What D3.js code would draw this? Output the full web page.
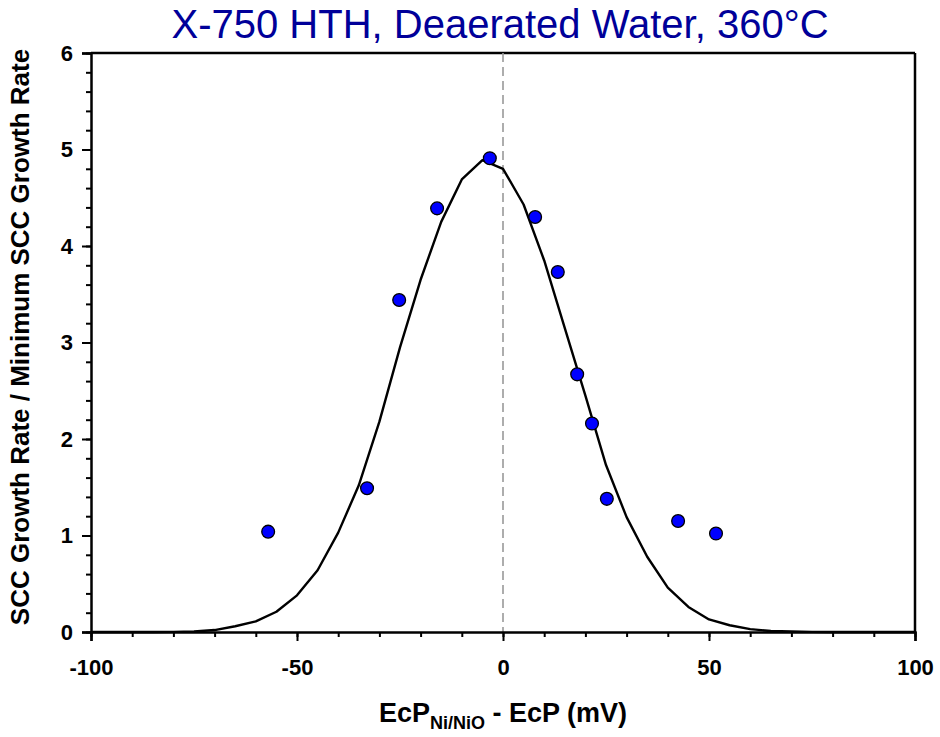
<!DOCTYPE html>
<html>
<head>
<meta charset="utf-8">
<script src="https://cdn.jsdelivr.net/npm/d3@7"></script>
<style>
    body { margin: 0; background: #fff; }
    text { font-family: "Liberation Sans", Arial, sans-serif; }
</style>
</head>
<body>
<div id="chart"></div>
<script>
// measured points
const pointX = [-57, -33, -25.2, -16, -3.2, 7.8, 13.3, 18, 21.6, 25.2, 42.5, 51.7];
const pointY = [1.04, 1.49, 3.44, 4.39, 4.91, 4.30, 3.73, 2.67, 2.16, 1.38, 1.15, 1.02];

const curveX = [-100, -95, -90, -85, -80, -75, -70, -65, -60, -55, -50, -45, -40, -35, -30, -25, -20, -15, -10, -5,
    0, 5, 10, 15, 20, 25, 30, 35, 40, 45, 50, 55, 60, 65, 70, 75, 80, 85, 90, 95, 100];
const curveY = [0, 0, 0, 0, 0.001, 0.005, 0.02, 0.06, 0.11, 0.21, 0.38, 0.64, 1.03, 1.52, 2.18, 2.95, 3.65, 4.25, 4.69, 4.89,
    4.80, 4.43, 3.85, 3.15, 2.45, 1.73, 1.19, 0.78, 0.46, 0.26, 0.13, 0.07, 0.03, 0.01, 0.005, 0.001, 0, 0, 0, 0, 0];

const xTicks = [-100, -50, 0, 50, 100];
const yTicks = [0, 1, 2, 3, 4, 5, 6];

const chartTitle = "X-750 HTH, Deaerated Water, 360°C";
const yTitle = "SCC Growth Rate / Minimum SCC Growth Rate";

function draw() {
    const w = 940;
    const h = 737;
    const left = 91, right = 915, top = 53, bottom = 632;

    const xScale = d3.scaleLinear().domain([-100, 100]).range([left, right]);
    const yScale = d3.scaleLinear().domain([0, 6]).range([bottom, top]);

    // plain hyphen for negatives, like the original
    const fmt = function (d) { return String(d); };

    const svg = d3.select("#chart").append("svg")
        .attr("width", w)
        .attr("height", h);

    // frame top/right
    svg.append("line")
        .attr("x1", left).attr("x2", right).attr("y1", top).attr("y2", top)
        .attr("stroke", "#000").attr("stroke-width", 2.5);
    svg.append("line")
        .attr("x1", right).attr("x2", right).attr("y1", top).attr("y2", bottom)
        .attr("stroke", "#000").attr("stroke-width", 2.5);

    // zero reference line
    svg.append("line")
        .attr("x1", xScale(0)).attr("x2", xScale(0))
        .attr("y1", top).attr("y2", bottom)
        .attr("stroke", "#999").attr("stroke-width", 1.6)
        .attr("stroke-dasharray", "9,5");

    // minor ticks
    const xMinor = d3.axisBottom(xScale).tickValues(d3.range(-100, 101, 10)).tickSize(5).tickFormat("");
    svg.append("g").attr("class", "minor")
        .attr("transform", "translate(0," + bottom + ")")
        .call(xMinor);
    const yMinor = d3.axisLeft(yScale).tickValues(d3.range(0, 30.5, 1).map(d => d / 5)).tickSize(5).tickFormat("");
    svg.append("g").attr("class", "minor")
        .attr("transform", "translate(" + left + ",0)")
        .call(yMinor);

    // major axes
    const xAxis = d3.axisBottom(xScale).tickValues(xTicks).tickSize(9).tickPadding(18).tickFormat(fmt);
    const gx = svg.append("g")
        .attr("transform", "translate(0," + bottom + ")")
        .call(xAxis);
    gx.selectAll("text").attr("font-size", 22).attr("font-weight", "bold").attr("fill", "#000");

    const yAxis = d3.axisLeft(yScale).tickValues(yTicks).tickSize(9).tickPadding(9).tickFormat(fmt);
    const gy = svg.append("g")
        .attr("transform", "translate(" + left + ",0)")
        .call(yAxis);
    gy.selectAll("text").attr("font-size", 22).attr("font-weight", "bold").attr("fill", "#000");

    svg.selectAll(".domain").attr("stroke-width", 2.5).attr("stroke", "#000");
    svg.selectAll(".tick line").attr("stroke-width", 2).attr("stroke", "#000");
    svg.selectAll(".minor .domain").remove();

    // curve
    const line = d3.line()
        .x(function (d, i) { return xScale(curveX[i]); })
        .y(function (d) { return yScale(d); });
    svg.append("path")
        .datum(curveY)
        .attr("d", line)
        .attr("fill", "none")
        .attr("stroke", "#000")
        .attr("stroke-width", 2.4)
        .attr("stroke-linejoin", "round");

    // points
    svg.selectAll("circle")
        .data(pointY)
        .enter()
        .append("circle")
        .attr("cx", function (d, i) { return xScale(pointX[i]); })
        .attr("cy", function (d) { return yScale(d); })
        .attr("r", 6.4)
        .attr("fill", "#0000ff")
        .attr("stroke", "#000")
        .attr("stroke-width", 1.3);

    // title
    svg.append("text")
        .attr("x", 500)
        .attr("y", 38)
        .attr("text-anchor", "middle")
        .attr("font-size", 40)
        .attr("fill", "#000099")
        .text(chartTitle);

    // x title with subscript
    const xt = svg.append("text")
        .attr("x", xScale(0))
        .attr("y", 722)
        .attr("text-anchor", "middle")
        .attr("font-size", 27)
        .attr("font-weight", "bold");
    xt.append("tspan").text("EcP");
    xt.append("tspan").attr("font-size", 18).attr("dy", 7).text("Ni/NiO");
    xt.append("tspan").attr("dy", -7).text(" - EcP (mV)");

    // y title
    svg.append("text")
        .attr("transform", "translate(29," + 337 + ") rotate(-90)")
        .attr("text-anchor", "middle")
        .attr("font-size", 26)
        .attr("font-weight", "bold")
        .text(yTitle);
}

draw();
</script>
</body>
</html>
